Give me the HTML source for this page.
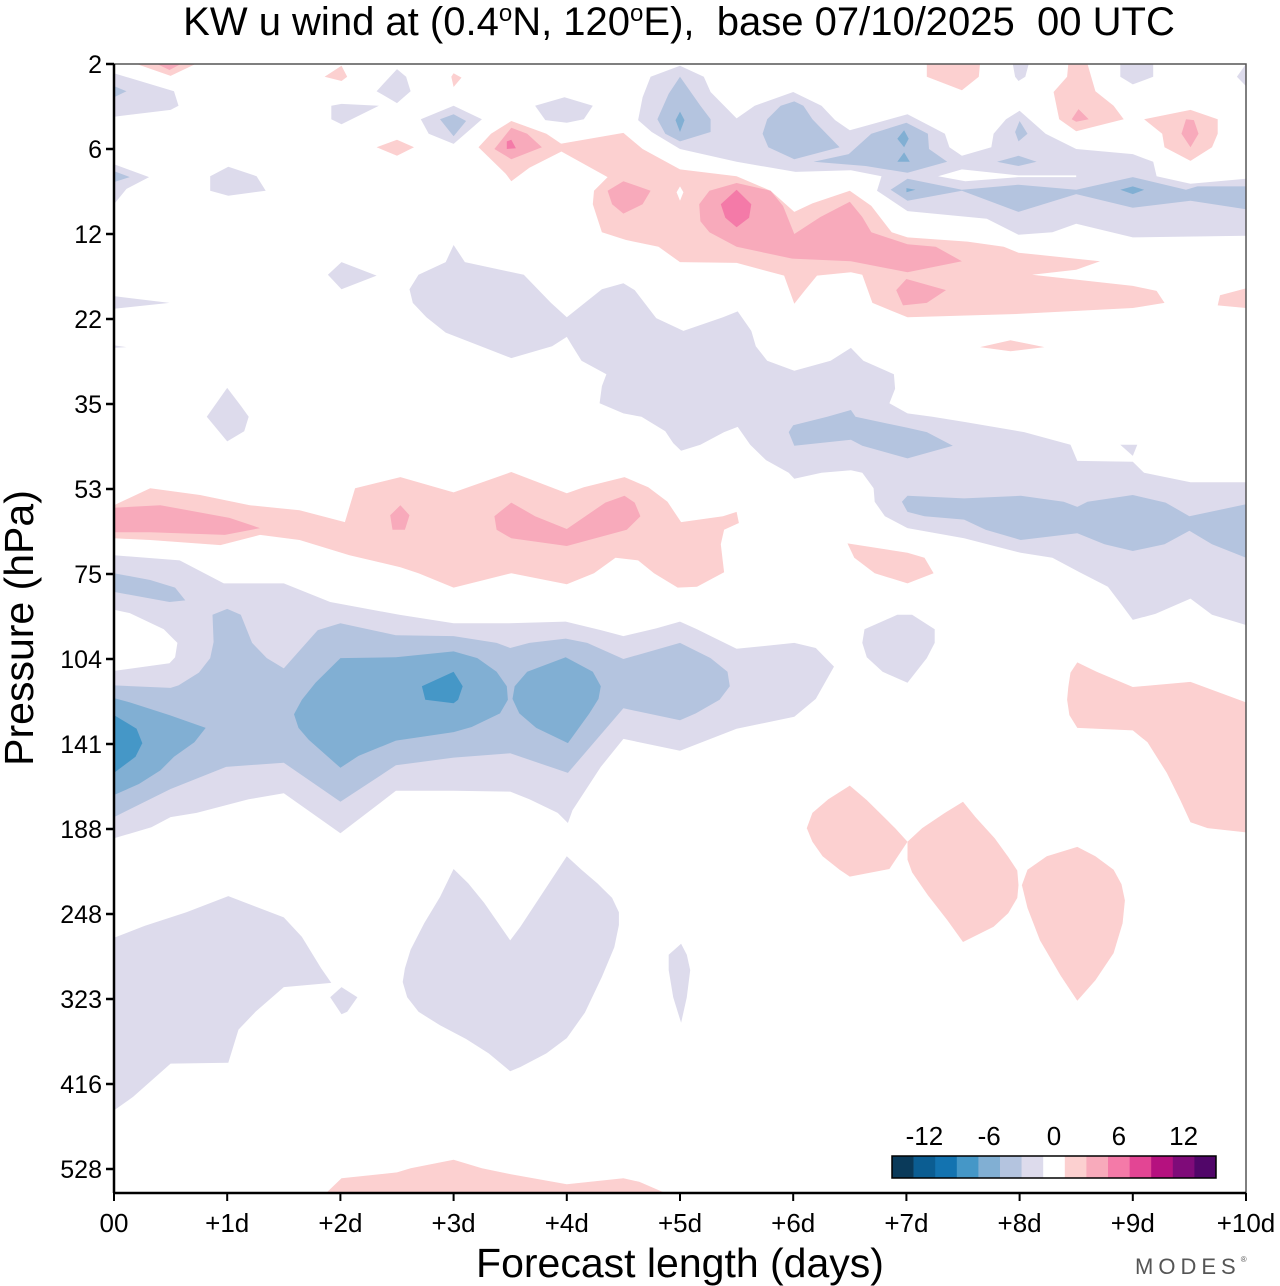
<!DOCTYPE html>
<html><head><meta charset="utf-8"><style>
html,body{margin:0;padding:0;background:#fff;}
svg{display:block;font-family:"Liberation Sans",Arial,sans-serif;}
</style></head><body>
<svg id="chart" width="1280" height="1286" viewBox="0 0 1280 1286" xmlns="http://www.w3.org/2000/svg">
<defs><clipPath id="plotclip"><rect x="114" y="64" width="1132" height="1129"/></clipPath></defs>
<text x="679" y="35" text-anchor="middle" font-size="40" style="white-space:pre" xml:space="preserve">KW u wind at (0.4<tspan dy="-14" font-size="24">o</tspan><tspan dy="14">N, 120</tspan><tspan dy="-14" font-size="24">o</tspan><tspan dy="14">E),  base 07/10/2025  00 UTC</tspan></text>
<g id="fields" clip-path="url(#plotclip)"></g>
<g id="axes"></g>
<text transform="translate(33,628) rotate(-90)" text-anchor="middle" font-size="41">Pressure (hPa)</text>
<text x="680" y="1277" text-anchor="middle" font-size="41">Forecast length (days)</text>
<text x="1135" y="1274" font-size="22" fill="#555" letter-spacing="5">MODES<tspan font-size="8" dy="-12">®</tspan></text>
<g id="legend"></g>
</svg>
<script>
const dayTicks = ["00","+1d","+2d","+3d","+4d","+5d","+6d","+7d","+8d","+9d","+10d"];
const pressureLevels = [2,6,12,22,35,53,75,104,141,188,248,323,416,528];
const legendColors = ["#0a3a5a","#0b5d92","#1373b0","#4597c7","#81afd3","#b4c4df","#dddbec","#ffffff","#fcd0d0","#f8aabb","#f47aa8","#e34594","#b5117f","#7f0b79","#510669"];
const legendLabels = ["-12","-6","0","6","12"];
const legendLabelCells = [1.5,4.5,7.5,10.5,13.5];

// polygon contours in [forecast day, pressure-level index]
const lavLowBand = [[0,5.78],[0.58,5.84],[0.97,6.11],[1.5,6.11],[1.91,6.33],[2.52,6.48],[3,6.58],[3.49,6.58],[3.99,6.56],[4.3,6.66],[4.5,6.73],[4.79,6.64],[5,6.56],[5.15,6.65],[5.5,6.88],[6.01,6.81],[6.2,6.87],[6.36,7.09],[6.2,7.47],[6.01,7.68],[5.5,7.82],[5,8.08],[4.5,7.94],[4.3,8.27],[4.05,8.78],[4.01,8.93],[3.92,8.81],[3.67,8.65],[3.5,8.56],[3,8.55],[2.49,8.55],[2,9.05],[1.5,8.58],[1.19,8.65],[0.73,8.81],[0.5,8.86],[0.33,8.98],[0,9.11]];
const whitePocket = [[0,6.42],[0.14,6.46],[0.44,6.65],[0.56,6.81],[0.54,6.98],[0.49,7.05],[0,7.14]];
const blueStrip75 = [[0,5.99],[0.32,6.07],[0.54,6.16],[0.63,6.31],[0.49,6.33],[0,6.21]];
const blue1Low = [[0,7.31],[0.5,7.34],[0.57,7.31],[0.75,7.16],[0.85,6.99],[0.88,6.8],[0.87,6.48],[1,6.41],[1.12,6.48],[1.22,6.81],[1.35,6.99],[1.5,7.11],[1.6,6.96],[1.8,6.66],[2,6.58],[2.49,6.72],[3,6.73],[3.38,6.81],[3.5,6.87],[3.67,6.81],[3.99,6.76],[4.18,6.81],[4.5,7],[5,6.81],[5.27,6.99],[5.42,7.15],[5.44,7.32],[5.35,7.48],[5.14,7.64],[5,7.72],[4.5,7.58],[4.01,8.34],[3.5,8.11],[3,8.16],[2.49,8.25],[2,8.68],[1.5,8.22],[0.99,8.27],[0.5,8.53],[0,8.86]];
const blue2A = [[0,7.46],[0.14,7.51],[0.49,7.66],[0.81,7.81],[0.71,7.98],[0.53,8.15],[0.41,8.31],[0.22,8.47],[0,8.6]];
const blue2B = [[2,6.99],[2.49,6.98],[3,6.91],[3.21,6.99],[3.38,7.15],[3.47,7.32],[3.48,7.48],[3.41,7.64],[3.16,7.8],[3,7.86],[2.49,7.96],[2.16,8.14],[2,8.28],[1.72,7.95],[1.63,7.81],[1.59,7.65],[1.66,7.48],[1.78,7.28]];
const blue2C = [[3.99,6.98],[4.23,7.15],[4.3,7.32],[4.28,7.47],[4.2,7.64],[4.01,7.99],[3.73,7.81],[3.58,7.64],[3.52,7.47],[3.54,7.32],[3.65,7.15]];
const blue3A = [[0,7.66],[0.2,7.82],[0.25,7.99],[0.19,8.15],[0,8.34]];
const blue3B = [[3,7.15],[3.08,7.32],[3.04,7.48],[3,7.52],[2.75,7.48],[2.72,7.32]];
const pinkBand = [[0,5.19],[0.32,4.99],[0.76,5.07],[1.2,5.19],[1.64,5.25],[2.04,5.39],[2.13,4.99],[2.53,4.86],[3,5.04],[3.51,4.8],[4,5.05],[4.15,4.98],[4.51,4.86],[4.72,4.98],[4.89,5.15],[5.01,5.39],[5.38,5.32],[5.5,5.27],[5.52,5.4],[5.39,5.48],[5.36,5.65],[5.39,5.98],[5.15,6.15],[4.98,6.16],[4.77,5.99],[4.63,5.84],[4.43,5.81],[4.24,5.99],[4,6.12],[3.51,5.99],[3,6.16],[2.69,5.99],[2.53,5.92],[2.08,5.78],[1.64,5.6],[1.29,5.54],[0.94,5.66],[0.32,5.6],[0,5.58]];
const pink2Left = [[0,5.22],[0.41,5.19],[1.02,5.34],[1.29,5.46],[0.98,5.54],[0.32,5.51],[0,5.51]];
const pink2Mid = [[3.36,5.32],[3.51,5.16],[3.72,5.32],[4,5.47],[4.34,5.16],[4.51,5.08],[4.6,5.16],[4.65,5.32],[4.53,5.48],[4,5.67],[3.51,5.58],[3.38,5.48]];
const pink2Small = [[2.44,5.31],[2.53,5.19],[2.61,5.31],[2.57,5.48],[2.46,5.48]];
const pink75 = [[6.48,5.64],[7.01,5.75],[7.16,5.81],[7.24,5.99],[7.01,6.11],[6.72,5.99],[6.54,5.81],[6.49,5.67]];
const lav104 = [[6.61,6.81],[6.63,6.65],[6.92,6.48],[7.05,6.48],[7.25,6.65],[7.25,6.81],[7.18,6.99],[7.01,7.28],[6.79,7.15],[6.65,6.98]];
const pinkRight = [[8.51,7.04],[8.68,7.15],[9,7.33],[9.51,7.27],[10,7.51],[10,9.04],[9.66,8.99],[9.51,8.92],[9.42,8.66],[9.3,8.34],[9.13,7.98],[9,7.84],[8.51,7.81],[8.44,7.66],[8.42,7.48],[8.43,7.33],[8.45,7.16]];
const pinkA = [[6.5,8.49],[6.65,8.66],[6.9,8.99],[7.01,9.15],[6.85,9.47],[6.5,9.56],[6.41,9.48],[6.26,9.32],[6.17,9.15],[6.12,8.99],[6.17,8.81],[6.31,8.65]];
const pinkB = [[7.01,9.15],[7.14,8.99],[7.34,8.81],[7.5,8.68],[7.61,8.86],[7.78,9.11],[7.9,9.33],[7.98,9.49],[7.99,9.66],[7.98,9.81],[7.9,9.99],[7.77,10.15],[7.5,10.33],[7.36,10.07],[7.19,9.78],[7.05,9.51],[7.01,9.36]];
const pinkC = [[8.07,9.48],[8.24,9.32],[8.51,9.21],[8.67,9.32],[8.83,9.48],[8.9,9.65],[8.93,9.84],[8.91,10.11],[8.83,10.46],[8.67,10.78],[8.51,11.02],[8.36,10.72],[8.18,10.31],[8.07,9.93],[8.02,9.66]];
const lavLowLeft = [[0,10.28],[0.27,10.14],[0.64,9.98],[1.01,9.79],[1.5,10.04],[1.66,10.27],[1.83,10.64],[1.92,10.81],[1.5,10.86],[1.25,11.15],[1.1,11.36],[1.01,11.75],[0.5,11.76],[0.17,12.15],[0,12.31]];
const lavTiny323 = [[1.91,10.98],[2.01,10.86],[2.15,10.98],[2.06,11.15],[2.01,11.18]];
const lavV = [[3,9.47],[3.13,9.64],[3.27,9.87],[3.5,10.31],[3.59,10.15],[4,9.32],[4.13,9.48],[4.27,9.64],[4.4,9.81],[4.46,9.98],[4.46,10.13],[4.42,10.39],[4.31,10.74],[4.16,11.16],[4,11.46],[3.82,11.64],[3.59,11.8],[3.5,11.85],[3.31,11.64],[3.11,11.47],[2.88,11.31],[2.69,11.15],[2.59,10.98],[2.55,10.8],[2.57,10.64],[2.62,10.42],[2.74,10.11],[2.88,9.8]];
const lavSliver = [[4.9,10.48],[5.01,10.35],[5.06,10.48],[5.09,10.66],[5.06,10.98],[5.01,11.28],[4.94,10.98],[4.9,10.66]];
const pinkBottom = [[1.86,13.3],[2.01,13.11],[2.5,13.04],[2.62,12.99],[3,12.89],[3.25,12.99],[3.5,13.06],[4,13.18],[4.5,13.11],[4.64,13.15],[4.9,13.3]];
const lavS1 = [[0.82,4.15],[1,3.81],[1.12,4.02],[1.19,4.15],[1.15,4.32],[1,4.44]];
const lavS2 = [[0,2.73],[0.49,2.81],[0,2.88]];
const lavS3 = [[0,3.31],[0.11,3.33],[0,3.34]];
const lavS4 = [[1.89,2.48],[2.01,2.33],[2.32,2.49],[2.01,2.65]];
const lavS5 = [[0.85,1.32],[1.01,1.21],[1.26,1.32],[1.34,1.49],[1.01,1.55],[0.85,1.49]];
const lavS6 = [[0,1.18],[0.31,1.33],[0.11,1.47],[0,1.65]];
const blueS6 = [[0,1.26],[0.14,1.33],[0,1.39]];
const lavS7 = [[0,0.11],[0.53,0.32],[0.57,0.49],[0.5,0.54],[0,0.62]];
const blueS7 = [[0,0.26],[0.11,0.32],[0,0.39]];
const lavS8 = [[2.32,0.32],[2.5,0.06],[2.58,0.15],[2.62,0.32],[2.5,0.46]];
const lavS9 = [[1.92,0.49],[2.01,0.47],[2.34,0.49],[2.01,0.71],[1.92,0.65]];
const lavS10 = [[2.71,0.65],[3,0.49],[3.25,0.65],[3,0.94],[2.78,0.82]];
const blueS10 = [[2.88,0.65],[3,0.59],[3.11,0.67],[3,0.85]];
const lavS11 = [[3.72,0.49],[3.98,0.39],[4.23,0.49],[4.15,0.65],[4,0.69],[3.81,0.66]];
const pinkS1 = [[0.2,0],[0.72,0],[0.5,0.14]];
const pink2S1 = [[0.38,0],[0.59,0],[0.49,0.07]];
const pinkS2 = [[1.86,0.15],[2.01,0.02],[2.06,0.15],[2.01,0.2]];
const pinkS3 = [[2.98,0.15],[3,0.11],[3.07,0.16],[3,0.27]];
const pinkS4 = [[2.32,0.98],[2.5,0.89],[2.65,0.98],[2.5,1.08]];
const pinkS5 = [[3.22,0.98],[3.33,0.82],[3.51,0.67],[3.82,0.82],[4.01,0.99],[3.67,1.22],[3.51,1.38],[3.46,1.29]];
const pink2S5 = [[3.36,1],[3.51,0.75],[3.65,0.82],[3.78,0.98],[3.51,1.12]];
const pink3S5 = [[3.47,0.91],[3.51,0.89],[3.55,0.99],[3.47,1]];
const pinkUpper = [[3.94,0.94],[4.5,0.81],[4.67,1],[5,1.24],[5.5,1.32],[5.8,1.49],[6.01,1.74],[6.17,1.64],[6.5,1.49],[6.69,1.67],[6.87,1.98],[7.01,2.04],[7.54,2.09],[7.86,2.15],[7.99,2.22],[8.71,2.32],[8.5,2.42],[8.11,2.48],[9,2.61],[9.21,2.67],[9.28,2.81],[9,2.87],[7.99,2.94],[7.01,2.98],[6.7,2.81],[6.61,2.48],[6.51,2.45],[6.21,2.49],[6.1,2.67],[6.01,2.82],[5.92,2.49],[5.5,2.34],[5,2.33],[4.81,2.15],[4.52,2.07],[4.31,1.98],[4.23,1.65],[4.24,1.49],[4.36,1.33],[3.94,1.02]];
const pink2Upper = [[5.17,1.65],[5.26,1.49],[5.5,1.4],[5.8,1.49],[5.91,1.67],[6.01,2],[6.24,1.8],[6.5,1.62],[6.61,1.8],[6.69,1.98],[7.01,2.12],[7.26,2.15],[7.49,2.32],[7.01,2.45],[6.51,2.32],[5.99,2.29],[5.5,2.15],[5.26,1.98],[5.18,1.85]];
const pink2UpperSmall = [[4.36,1.49],[4.5,1.38],[4.74,1.49],[4.67,1.65],[4.5,1.76],[4.4,1.65]];
const pink2UpperLow = [[7,2.53],[7.35,2.66],[7.18,2.81],[6.97,2.84],[6.91,2.66]];
const pink3Upper = [[5.5,1.48],[5.63,1.65],[5.61,1.81],[5.5,1.92],[5.4,1.81],[5.36,1.65]];
const whiteDiamond = [[5,1.44],[5.03,1.51],[5,1.61],[4.97,1.51]];
const lavTopBand = [[4.74,0.15],[5,0.02],[5.21,0.15],[5.27,0.33],[5.5,0.64],[5.66,0.49],[6,0.33],[6.25,0.49],[6.37,0.66],[6.5,0.78],[7.01,0.59],[7.34,0.82],[7.38,0.98],[7.49,1.08],[7.75,0.98],[7.77,0.82],[7.88,0.65],[8,0.55],[8.23,0.82],[8.5,1],[9,1.06],[9.18,1.15],[9.21,1.32],[9.51,1.41],[10,1.35],[10,2.02],[9,2.04],[8.5,1.88],[8.29,1.98],[7.99,2.01],[7.71,1.82],[7.01,1.73],[6.74,1.49],[6.78,1.32],[6.51,1.25],[6.02,1.27],[5.5,1.15],[5,1],[4.75,0.8],[4.63,0.66],[4.67,0.39]];
const whiteStripe = [[7.28,1.32],[7.49,1.24],[7.99,1.31],[8.5,1.31],[8.5,1.33],[7.99,1.33],[7.52,1.38]];
const blueT1 = [[5,0.15],[5.18,0.49],[5.27,0.65],[5.27,0.8],[5,0.91],[4.87,0.82],[4.8,0.65],[4.9,0.35]];
const blueT2 = [[5.89,0.49],[6.01,0.44],[6.09,0.49],[6.17,0.65],[6.41,0.98],[6.01,1.12],[5.78,0.98],[5.73,0.82],[5.77,0.65]];
const blueT3 = [[6.18,1.15],[6.49,1.06],[6.69,0.82],[7,0.69],[7.19,0.82],[7.2,1],[7.36,1.15],[7.01,1.28],[6.64,1.2]];
const blueT4 = [[7.8,1.15],[7.99,1.08],[8.15,1.15],[7.99,1.2]];
const blueT5 = [[6.86,1.48],[7.01,1.35],[7.49,1.48],[7.99,1.42],[8.5,1.48],[9,1.33],[9.47,1.48],[9.57,1.44],[10,1.44],[10,1.71],[9.51,1.61],[9,1.69],[8.5,1.53],[7.99,1.74],[7.49,1.49],[7.01,1.61]];
const blueT6 = [[7.96,0.8],[8,0.67],[8.07,0.82],[7.99,0.91]];
const blue2T1 = [[5,0.56],[5.04,0.66],[5,0.8],[4.96,0.66]];
const blue2T2 = [[6.98,0.78],[7.02,0.88],[6.98,0.98],[6.92,0.88]];
const blue2T3 = [[6.98,1.04],[7.03,1.15],[6.92,1.15]];
const blue2T4 = [[7,1.46],[7.08,1.48],[7,1.51]];
const blue2T5 = [[9,1.44],[9.1,1.48],[9,1.53],[8.89,1.48]];
const pinkTR1 = [[7.18,0],[7.65,0],[7.64,0.15],[7.49,0.31],[7.18,0.15]];
const pinkTR2 = [[8.43,0],[8.6,0],[8.67,0.32],[8.83,0.49],[8.92,0.65],[8.5,0.79],[8.35,0.65],[8.3,0.33],[8.42,0.15]];
const pink2TR2 = [[8.52,0.53],[8.61,0.65],[8.5,0.68],[8.46,0.65]];
const pinkTR3 = [[9.1,0.65],[9.51,0.54],[9.75,0.65],[9.75,0.82],[9.7,0.98],[9.51,1.14],[9.28,0.98],[9.26,0.82]];
const pink2TR3 = [[9.47,0.65],[9.54,0.66],[9.58,0.82],[9.51,0.98],[9.43,0.82]];
const lavTR1 = [[7.94,0],[8.08,0],[8.05,0.15],[7.99,0.2],[7.96,0.15]];
const lavTR2 = [[8.89,0],[9.18,0],[9.18,0.15],[9,0.24],[8.89,0.15]];
const lavTR3 = [[9.92,0.15],[10,0],[10,0.26]];
const pinkEdge22 = [[9.77,2.72],[10,2.64],[10,2.87],[9.75,2.84]];
const pinkSliver22 = [[7.65,3.33],[7.92,3.25],[8.22,3.33],[7.92,3.38]];
const lavDiagonal = [[2.61,2.65],[2.69,2.48],[2.93,2.33],[3,2.13],[3.1,2.33],[3.62,2.48],[3.86,2.81],[4,2.98],[4.31,2.65],[4.5,2.58],[4.6,2.66],[4.79,2.99],[5.03,3.14],[5.38,2.98],[5.51,2.91],[5.63,3.14],[5.67,3.32],[5.77,3.49],[6.01,3.61],[6.33,3.49],[6.51,3.34],[6.62,3.49],[6.89,3.65],[6.9,3.82],[6.85,3.99],[7.01,4.11],[7.23,4.15],[7.51,4.21],[8.04,4.33],[8.45,4.48],[8.51,4.67],[9,4.68],[9.1,4.81],[9.51,4.92],[10,4.92],[10,6.6],[9.7,6.48],[9.51,6.29],[9.2,6.47],[9,6.54],[8.9,6.36],[8.78,6.15],[8.53,5.98],[8.29,5.81],[8.01,5.75],[7.51,5.58],[7.01,5.46],[6.81,5.32],[6.72,5.15],[6.71,4.99],[6.61,4.81],[6.51,4.78],[6.25,4.81],[6.01,4.88],[5.96,4.81],[5.76,4.66],[5.62,4.48],[5.51,4.27],[5.39,4.33],[5.18,4.48],[5.01,4.55],[4.94,4.46],[4.87,4.32],[4.66,4.15],[4.5,4.11],[4.29,3.99],[4.31,3.79],[4.35,3.65],[4.13,3.49],[4.05,3.32],[4,3.21],[3.87,3.32],[3.51,3.46],[3.24,3.32],[2.93,3.16],[2.76,2.98],[2.64,2.81]];
const blueDiag35 = [[6,4.25],[6.3,4.15],[6.51,4.07],[6.55,4.15],[7.01,4.28],[7.18,4.33],[7.41,4.49],[7.01,4.64],[6.61,4.49],[6.51,4.42],[6.01,4.49],[5.96,4.33]];
const blueDiag53 = [[7.01,5.08],[7.51,5.11],[8.01,5.08],[8.39,5.15],[8.51,5.21],[8.6,5.15],[9,5.07],[9.29,5.16],[9.5,5.32],[10,5.18],[10,5.81],[9.7,5.65],[9.5,5.49],[9.28,5.65],[9,5.73],[8.75,5.65],[8.51,5.52],[8.01,5.6],[7.7,5.48],[7.51,5.36],[7.16,5.32],[7.01,5.27],[6.96,5.15]];
const lavTiny35 = [[8.89,4.48],[9.04,4.48],[9,4.61]];

const layers = [
 [lavLowBand,6],[whitePocket,7],[blueStrip75,5],[blue1Low,5],[blue2A,4],[blue2B,4],[blue2C,4],[blue3A,3],[blue3B,3],
 [pinkBand,8],[pink2Left,9],[pink2Mid,9],[pink2Small,9],[pink75,8],[lav104,6],[pinkRight,8],[pinkA,8],[pinkB,8],[pinkC,8],
 [lavLowLeft,6],[lavTiny323,6],[lavV,6],[lavSliver,6],[pinkBottom,8],
 [lavS1,6],[lavS2,6],[lavS3,6],[lavS4,6],[lavS5,6],[lavS6,6],[blueS6,5],[lavS7,6],[blueS7,5],[lavS8,6],[lavS9,6],[lavS10,6],[blueS10,5],[lavS11,6],
 [pinkS1,8],[pink2S1,9],[pinkS2,8],[pinkS3,8],[pinkS4,8],[pinkS5,8],[pink2S5,9],[pink3S5,10],
 [lavDiagonal,6],[blueDiag35,5],[blueDiag53,5],[lavTiny35,6],
 [pinkUpper,8],[pink2Upper,9],[pink2UpperSmall,9],[pink2UpperLow,9],[pink3Upper,10],[whiteDiamond,7],
 [lavTopBand,6],[whiteStripe,7],[blueT1,5],[blueT2,5],[blueT3,5],[blueT4,5],[blueT5,5],[blueT6,5],
 [blue2T1,4],[blue2T2,4],[blue2T3,4],[blue2T4,4],[blue2T5,4],
 [pinkTR1,8],[pinkTR2,8],[pink2TR2,9],[pinkTR3,8],[pink2TR3,9],[lavTR1,6],[lavTR2,6],[lavTR3,6],[pinkEdge22,8],[pinkSliver22,8]
];

const X0=114, X1=1246, Y0=64, Y1=1193;
const dayMax = dayTicks.length-1;
function xScale(d){ return X0 + d*(X1-X0)/dayMax; }
function yScale(l){ return Y0 + l*85; }
const NS="http://www.w3.org/2000/svg";

const fields=document.getElementById('fields');
layers.forEach(function(layer, i){
  const p=document.createElementNS(NS,'polygon');
  p.setAttribute('points', layer[0].map(function(v){return xScale(v[0]).toFixed(1)+','+yScale(v[1]).toFixed(1);}).join(' '));
  p.setAttribute('fill', legendColors[layer[1]]);
  
  
  fields.appendChild(p);
});

const axes=document.getElementById('axes');
function mk(tag, attrs, parent){ const e=document.createElementNS(NS,tag); for(const k in attrs) e.setAttribute(k, attrs[k]); (parent||axes).appendChild(e); return e; }
let frame = mk('rect',{x:X0,y:Y0,width:X1-X0,height:Y1-Y0,fill:'none',stroke:'#555','stroke-width':1.5});


let yl = mk('line',{x1:X0,y1:Y0,x2:X0,y2:Y1,stroke:'#000','stroke-width':2.5});


let xl = mk('line',{x1:X0,y1:Y1,x2:X1,y2:Y1,stroke:'#000','stroke-width':2.5});


pressureLevels.forEach(function(p,i){
  const y=yScale(i);
  const t=mk('line',{x1:X0-8,y1:y,x2:X0,y2:y,stroke:'#000','stroke-width':2.5});
  
  
  const tx=mk('text',{x:X0-12,y:y+9,'text-anchor':'end','font-size':25});
  tx.textContent=p;
  
  
});
dayTicks.forEach(function(lbl,i){
  const x=xScale(i);
  const t=mk('line',{x1:x,y1:Y1,x2:x,y2:Y1+8,stroke:'#000','stroke-width':2});
  
  
  const tx=mk('text',{x:x,y:Y1+39,'text-anchor':'middle','font-size':26});
  tx.textContent=lbl;
  
  
});

const legend=document.getElementById('legend');
const LX=892, LY=1156, LW=324, LH=22, cw=LW/legendColors.length;
legendColors.forEach(function(c,i){
  const r=mk('rect',{x:LX+i*cw,y:LY,width:cw+0.3,height:LH,fill:c},legend);
  
  
});
const lb=mk('rect',{x:LX,y:LY,width:LW,height:LH,fill:'none',stroke:'#000','stroke-width':1.5},legend);


legendLabels.forEach(function(s,i){
  const tx=mk('text',{x:LX+legendLabelCells[i]*cw,y:LY-11,'text-anchor':'middle','font-size':26},legend);
  tx.textContent=s;
  
  
});
</script>
</body></html>
